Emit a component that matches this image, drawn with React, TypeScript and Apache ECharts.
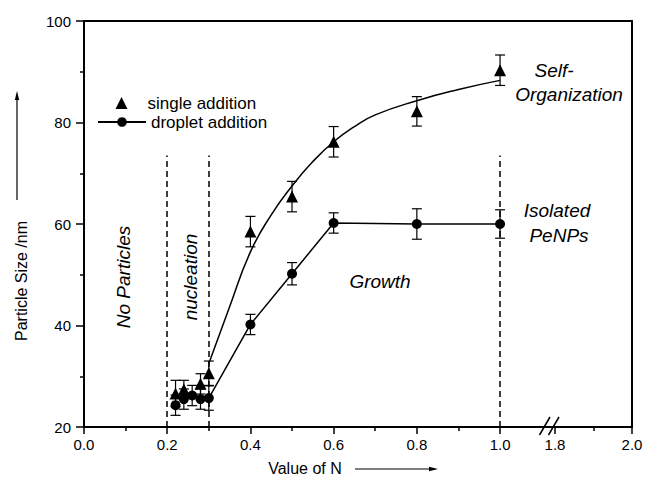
import React, { useEffect, useRef } from 'react';
import * as echarts from 'echarts';

// ---- data ----
const singleX = [0.22, 0.24, 0.28, 0.3, 0.4, 0.5, 0.6, 0.8, 1.0];
const singleY = [26.6, 27.4, 28.5, 30.6, 58.5, 65.4, 76.2, 82.2, 90.3];
const singleErr = [2.6, 1.8, 2, 2.4, 3, 3, 3, 2.9, 3];

const dropletX = [0.22, 0.24, 0.26, 0.28, 0.3, 0.4, 0.5, 0.6, 0.8, 1.0];
const dropletY = [24.3, 25.5, 26.2, 25.5, 25.7, 40.2, 50.2, 60.2, 60, 60];
const dropletErr = [2, 2, 2, 2, 2.4, 2, 2.2, 2, 3, 2.8];
const dropletLineStart = 0.3;

const fitX = [0.3, 0.35, 0.4, 0.45, 0.5, 0.55, 0.6, 0.65, 0.7, 0.8, 0.9, 1.0];
const fitY = [32.5, 43.7, 54.5, 61.8, 67.5, 72.3, 76.2, 79.2, 81.5, 84.3, 86.5, 88.3];

const phaseBoundaries = [0.2, 0.3, 1.0];
const boundaryTop = 73.5;

const xMajorLeft = [0, 0.2, 0.4, 0.6, 0.8, 1.0];
const xMinorLeft = [0.1, 0.3, 0.5, 0.7, 0.9];
const xMajorRight = [1.8, 2.0];
const xMinorRight = [1.9];

const FONT = '"Liberation Sans", Arial, Helvetica, sans-serif';
const BLACK = '#000';

function buildOption(): any {
  const lineW = 2;
  const axisLine = { show: true, onZero: false, lineStyle: { color: BLACK, width: lineW } };
  const noLine = { show: false };
  const hiddenLabel = { show: false };
  const noTick = { show: false };
  const tickStyle = { color: BLACK, width: 1.5 };
  const labelStyle = { color: BLACK, fontSize: 15, fontFamily: FONT };

  const errSingle = singleX.map((x, i) => [x, singleY[i] - singleErr[i], singleY[i] + singleErr[i]]);
  const errDroplet = dropletX.map((x, i) => [x, dropletY[i] - dropletErr[i], dropletY[i] + dropletErr[i]]);

  const renderErr = (params: any, api: any) => {
    const x = api.value(0);
    const lo = api.coord([x, api.value(1)]);
    const hi = api.coord([x, api.value(2)]);
    const w = 5;
    const st = { stroke: BLACK, lineWidth: 1.2 };
    return {
      type: 'group',
      children: [
        { type: 'line', shape: { x1: lo[0], y1: lo[1], x2: hi[0], y2: hi[1] }, style: st },
        { type: 'line', shape: { x1: hi[0] - w, y1: hi[1], x2: hi[0] + w, y2: hi[1] }, style: st },
        { type: 'line', shape: { x1: lo[0] - w, y1: lo[1], x2: lo[0] + w, y2: lo[1] }, style: st },
      ],
    };
  };

  const ital = (text: string, x: number, y: number, rot = 0) => ({
    type: 'text',
    x,
    y,
    rotation: rot,
    silent: true,
    style: {
      text,
      fill: BLACK,
      fontSize: 19,
      fontStyle: 'italic',
      fontFamily: FONT,
      align: 'center',
      verticalAlign: 'middle',
    },
  });

  const legendText = { color: BLACK, fontSize: 17, fontFamily: FONT };

  return {
    animation: false,
    backgroundColor: '#fff',
    textStyle: { fontFamily: FONT },
    grid: [
      { left: 84, top: 21, width: 461, height: 406, outerBoundsMode: 'none' },
      { left: 545, top: 21, width: 87, height: 406, outerBoundsMode: 'none' },
    ],
    xAxis: [
      {
        type: 'value', gridIndex: 0, min: 0, max: 1.108, position: 'bottom',
        axisLine, splitLine: { show: false },
        axisTick: { show: true, length: 7, lineStyle: tickStyle, customValues: xMajorLeft },
        axisLabel: { ...labelStyle, margin: 10, customValues: xMajorLeft, formatter: (v: number) => v.toFixed(1) },
      },
      {
        type: 'value', gridIndex: 0, min: 0, max: 1.108, position: 'bottom',
        axisLine: noLine, splitLine: { show: false },
        axisTick: { show: true, length: 4, lineStyle: tickStyle, customValues: xMinorLeft },
        axisLabel: hiddenLabel,
      },
      {
        type: 'value', gridIndex: 0, min: 0, max: 1.108, position: 'top',
        axisLine, splitLine: { show: false }, axisTick: noTick, axisLabel: hiddenLabel,
      },
      {
        type: 'value', gridIndex: 1, min: 1.774, max: 2.0, position: 'bottom',
        axisLine, splitLine: { show: false },
        axisTick: { show: true, length: 7, lineStyle: tickStyle, customValues: xMajorRight },
        axisLabel: { ...labelStyle, margin: 10, customValues: xMajorRight, formatter: (v: number) => v.toFixed(1) },
      },
      {
        type: 'value', gridIndex: 1, min: 1.774, max: 2.0, position: 'bottom',
        axisLine: noLine, splitLine: { show: false },
        axisTick: { show: true, length: 4, lineStyle: tickStyle, customValues: xMinorRight },
        axisLabel: hiddenLabel,
      },
      {
        type: 'value', gridIndex: 1, min: 1.774, max: 2.0, position: 'top',
        axisLine, splitLine: { show: false }, axisTick: noTick, axisLabel: hiddenLabel,
      },
    ],
    yAxis: [
      {
        type: 'value', gridIndex: 0, min: 20, max: 100, interval: 20, position: 'left',
        axisLine, splitLine: { show: false },
        axisTick: { show: true, length: 8, lineStyle: tickStyle },
        minorTick: { show: true, splitNumber: 2, length: 4, lineStyle: tickStyle },
        minorSplitLine: { show: false },
        axisLabel: { ...labelStyle, margin: 13 },
      },
      {
        type: 'value', gridIndex: 1, min: 20, max: 100, interval: 20, position: 'right',
        axisLine, splitLine: { show: false }, axisTick: noTick, axisLabel: hiddenLabel,
      },
    ],
    legend: [
      {
        data: [{ name: 'single addition', icon: 'path://M5,0L10,10L0,10Z' }],
        left: 115.5, top: 94.5, padding: 0, itemWidth: 12, itemHeight: 12,
        selectedMode: false,
        textStyle: { ...legendText, padding: [0, 0, 0, 15] },
      },
      {
        data: ['droplet addition'],
        left: 97, top: 113.5, padding: 0, itemWidth: 48, itemHeight: 12,
        selectedMode: false,
        textStyle: legendText,
      },
    ],
    series: [
      {
        type: 'custom', name: 'err single', xAxisIndex: 0, yAxisIndex: 0,
        data: errSingle, renderItem: renderErr, silent: true, encode: { x: 0, y: [1, 2] },
      },
      {
        type: 'custom', name: 'err droplet', xAxisIndex: 0, yAxisIndex: 0,
        data: errDroplet, renderItem: renderErr, silent: true, encode: { x: 0, y: [1, 2] },
      },
      {
        type: 'line', name: 'fit', xAxisIndex: 0, yAxisIndex: 0,
        data: fitX.map((x, i) => [x, fitY[i]]),
        smooth: true, symbol: 'none', silent: true,
        lineStyle: { color: BLACK, width: 1.5 },
        markLine: {
          silent: true,
          symbol: ['none', 'none'],
          label: { show: false },
          lineStyle: { color: BLACK, type: [6, 4], width: 1.5 },
          data: phaseBoundaries.map((x) => [{ coord: [x, 20] }, { coord: [x, boundaryTop] }]),
        },
      },
      {
        type: 'scatter', name: 'single addition', xAxisIndex: 0, yAxisIndex: 0,
        data: singleX.map((x, i) => [x, singleY[i]]),
        symbol: 'triangle', symbolSize: 12, silent: true,
        itemStyle: { color: BLACK, opacity: 1 },
      },
      {
        type: 'line', name: 'droplet addition', xAxisIndex: 0, yAxisIndex: 0,
        data: dropletX.map((x, i) => [x, dropletY[i]]).filter((d) => d[0] >= dropletLineStart),
        symbol: 'circle', symbolSize: 10, showAllSymbol: true, silent: true,
        lineStyle: { color: BLACK, width: 1.5 },
        itemStyle: { color: BLACK },
      },
      {
        type: 'scatter', name: 'droplet cluster', xAxisIndex: 0, yAxisIndex: 0,
        data: dropletX.map((x, i) => [x, dropletY[i]]).filter((d) => d[0] < dropletLineStart),
        symbol: 'circle', symbolSize: 10, silent: true,
        itemStyle: { color: BLACK, opacity: 1 },
      },
    ],
    graphic: [
      // axis break marks
      { type: 'line', silent: true, shape: { x1: 539.5, y1: 435, x2: 550, y2: 417 }, style: { stroke: BLACK, lineWidth: 1.5 } },
      { type: 'line', silent: true, shape: { x1: 548.5, y1: 435, x2: 559, y2: 417 }, style: { stroke: BLACK, lineWidth: 1.5 } },
      // axis titles
      {
        type: 'text', x: 21, y: 281, rotation: Math.PI / 2, silent: true,
        style: { text: 'Particle Size /nm', fill: BLACK, fontSize: 16, fontFamily: FONT, align: 'center', verticalAlign: 'middle' },
      },
      { type: 'line', silent: true, shape: { x1: 17, y1: 200, x2: 17, y2: 97 }, style: { stroke: BLACK, lineWidth: 1.2 } },
      { type: 'polygon', silent: true, shape: { points: [[17, 91], [14.8, 100], [19.2, 100]] }, style: { fill: BLACK } },
      {
        type: 'text', x: 305, y: 468, silent: true,
        style: { text: 'Value of N', fill: BLACK, fontSize: 16, fontFamily: FONT, align: 'center', verticalAlign: 'middle' },
      },
      { type: 'line', silent: true, shape: { x1: 355, y1: 469, x2: 432, y2: 469 }, style: { stroke: BLACK, lineWidth: 1.2 } },
      { type: 'polygon', silent: true, shape: { points: [[438, 469], [429, 466.8], [429, 471.2]] }, style: { fill: BLACK } },
      // annotations
      ital('No Particles', 123, 277, Math.PI / 2),
      ital('nucleation', 190, 277, Math.PI / 2),
      ital('Growth', 380, 281),
      ital('Self-', 554, 70),
      ital('Organization', 569, 94),
      ital('Isolated', 557, 210),
      ital('PeNPs', 559, 235),
    ],
  };
}

export default function App() {
  const ref = useRef<HTMLDivElement>(null);
  useEffect(() => {
    if (!ref.current) return;
    const chart = echarts.init(ref.current, null, { renderer: 'svg' });
    chart.setOption(buildOption());
    return () => {
      chart.dispose();
    };
  }, []);
  return (
    <div
      ref={ref}
      style={{ position: 'fixed', left: 0, top: 0, width: 645, height: 483, background: '#fff' }}
    />
  );
}
